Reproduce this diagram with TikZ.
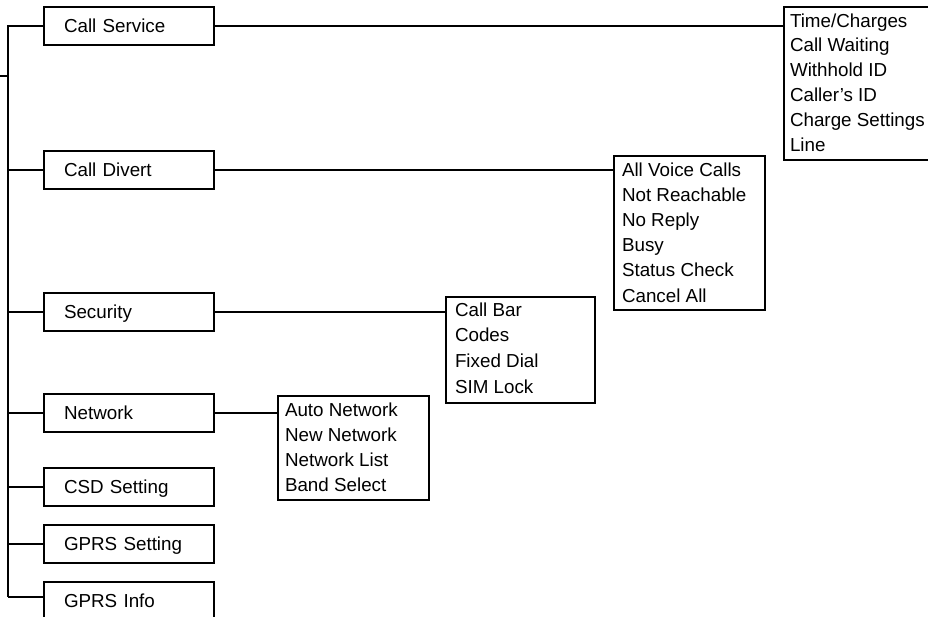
\documentclass[tikz,border=0pt]{standalone}
\usepackage{fontspec}
\setmainfont{Liberation Sans}
\begin{document}
\begin{tikzpicture}[x=1pt,y=-1pt, line width=2pt,
  lbox/.style={draw, line width=2pt, anchor=north west, minimum width=170pt, minimum height=38pt,
    inner xsep=20pt, inner ysep=0pt, text width=130pt, align=left, text height=13.5pt, text depth=0pt,
    font=\fontsize{18.8}{25}\selectfont},
  rbox/.style={draw, line width=2pt, anchor=north west, inner sep=0pt},
  item/.style={anchor=base west, inner sep=0pt, font=\fontsize{18.8}{25}\selectfont}]
\useasboundingbox (0,0) rectangle (928,616);
\begin{scope}
\clip (0,0) rectangle (928,616);
% left boxes
\node[lbox] (cs) at (43,6) {Call Service};
\node[lbox] (cd) at (43,150) {Call Divert};
\node[lbox] (sec) at (43,292) {Security};
\node[lbox] (net) at (43,393) {Network};
\node[lbox] (csd) at (43,467) {CSD Setting};
\node[lbox] (gs) at (43,524) {GPRS Setting};
\node[lbox] (gi) at (43,581) {GPRS Info};
% right boxes
\node[rbox, minimum width=152pt, minimum height=153pt] (ts) at (783,6) {};
\node[rbox, minimum width=151pt, minimum height=154pt] (avc) at (613,155) {};
\node[rbox, minimum width=149pt, minimum height=106pt] (cb) at (445,296) {};
\node[rbox, minimum width=151pt, minimum height=104pt] (an) at (277,395) {};
% list texts
\foreach \t [count=\i] in {Time/Charges, Call Waiting, Withhold ID, Caller’s ID, Charge Settings, Line}
  \node[item] (ts\i) at ({789},{27+24.8*(\i-1)}) {\t};
\foreach \t [count=\i] in {All Voice Calls, Not Reachable, No Reply, Busy, Status Check, Cancel All}
  \node[item] (avc\i) at ({621},{176+25.2*(\i-1)}) {\t};
\foreach \t [count=\i] in {Call Bar, Codes, Fixed Dial, SIM Lock}
  \node[item] (cb\i) at ({454},{316+25.7*(\i-1)}) {\t};
\foreach \t [count=\i] in {Auto Network, New Network, Network List, Band Select}
  \node[item] (an\i) at ({284},{416+25*(\i-1)}) {\t};
% trunk
\coordinate (ttop) at (8,25);
\coordinate (tbot) at (8,597);
\coordinate (stub) at (0,76);
\draw (ttop) -- (tbot);
\draw (stub) -- (stub -| ttop);
\foreach \n in {cs,cd,sec,net,csd,gs}
  \draw (\n.west -| ttop) -- (\n.west);
\draw (tbot) -- (tbot -| gi.west);
% right connectors
\draw (cs.east) -- (cs.east -| ts.west);
\draw (cd.east) -- (cd.east -| avc.west);
\draw (sec.east) -- (sec.east -| cb.west);
\draw (net.east) -- (net.east -| an.west);
\end{scope}
\end{tikzpicture}
\end{document}
